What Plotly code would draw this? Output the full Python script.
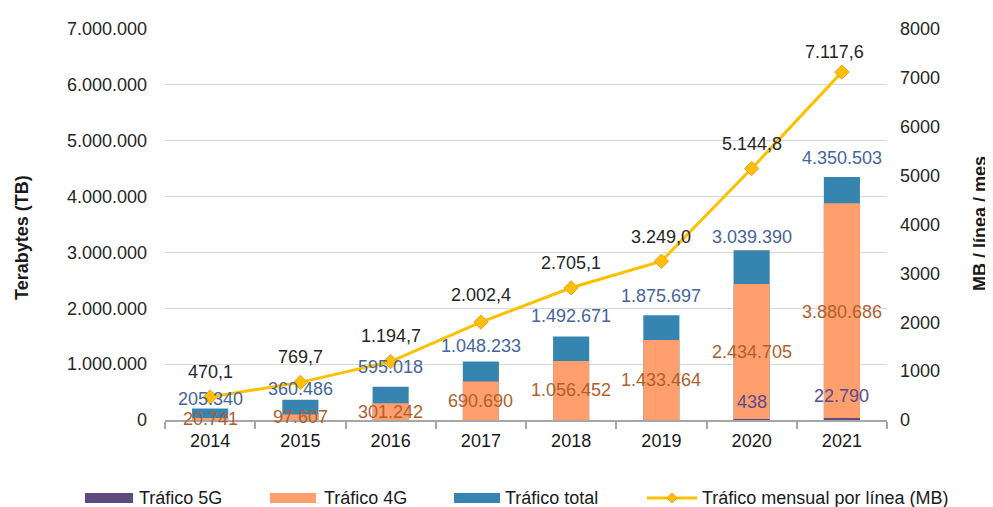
import plotly.graph_objects as go

years = ["2014", "2015", "2016", "2017", "2018", "2019", "2020", "2021"]
traffic_total = [205340, 360486, 595018, 1048233, 1492671, 1875697, 3039390, 4350503]
traffic_4g = [20741, 97607, 301242, 690690, 1056452, 1433464, 2434705, 3880686]
traffic_5g = [None, None, None, None, None, None, 438, 22790]
mb_per_line = [470.1, 769.7, 1194.7, 2002.4, 2705.1, 3249.0, 5144.8, 7117.6]

left_ticks = [0, 1000000, 2000000, 3000000, 4000000, 5000000, 6000000, 7000000]
right_ticks = [0, 1000, 2000, 3000, 4000, 5000, 6000, 7000, 8000]

# label offsets (pixels) - styling only
total_shift = [10, 11, 20, 15, 21, 19, 13, 19]
line_shift = [25, 25, 26, 27, 25, 24, 25, 20]
line_xshift = [0, 0, 0, 0, 0, 0, 0, -7]
g5_shift = [0, 0, 0, 0, 0, 0, 18, 23]

C_TOTAL = "#3585b0"
C_4G = "#fe9f6d"
C_5G = "#5e4a7e"
C_LINE = "#ffc000"
FONT = "Liberation Sans, Arial, sans-serif"

# page body has an 8px default margin
OFF = 8
W, H = 993 - OFF, 507 - OFF
L, R, T, B = 165, 887, 29, 420  # plot area in screen pixels


def fmt_int(v):
    return f"{v:,}".replace(",", ".")


def fmt_dec(v):
    s = f"{v:,.1f}"
    return s.replace(",", "X").replace(".", ",").replace("X", ".")


def px(xp):
    return (xp - L) / (R - L)


def py(yp):
    return (B - yp) / (B - T)


fig = go.Figure()
fig.add_trace(go.Bar(x=years, y=traffic_total, name="Tráfico total",
                     marker=dict(color=C_TOTAL, line=dict(width=0)), width=0.4,
                     showlegend=False))
fig.add_trace(go.Bar(x=years, y=traffic_4g, name="Tráfico 4G",
                     marker=dict(color=C_4G, line=dict(width=0)), width=0.4,
                     showlegend=False))
fig.add_trace(go.Bar(x=years, y=traffic_5g, name="Tráfico 5G",
                     marker=dict(color=C_5G, line=dict(width=0)), width=0.4,
                     showlegend=False))
fig.add_trace(go.Scatter(x=years, y=mb_per_line, yaxis="y2", mode="lines+markers",
                         name="Tráfico mensual por línea (MB)",
                         line=dict(color=C_LINE, width=3),
                         marker=dict(symbol="diamond", size=11, color=C_LINE,
                                     line=dict(color="#f39a3c", width=1)),
                         showlegend=False))

ann = []
for i, y in enumerate(years):
    ann.append(dict(x=i, y=traffic_total[i], xref="x", yref="y", text=fmt_int(traffic_total[i]),
                    showarrow=False, yshift=total_shift[i], yanchor="middle",
                    font=dict(size=18, color="#46659c", family=FONT)))
    ann.append(dict(x=i, y=traffic_4g[i] / 2, xref="x", yref="y", text=fmt_int(traffic_4g[i]),
                    showarrow=False, yanchor="middle",
                    font=dict(size=18, color="#b05f2c", family=FONT)))
    if traffic_5g[i] is not None:
        ann.append(dict(x=i, y=traffic_5g[i], xref="x", yref="y", text=fmt_int(traffic_5g[i]),
                        showarrow=False, yshift=g5_shift[i], yanchor="middle",
                        font=dict(size=18, color="#5b4a8c", family=FONT)))
    ann.append(dict(x=i, y=mb_per_line[i], xref="x", yref="y2", text=fmt_dec(mb_per_line[i]),
                    showarrow=False, yshift=line_shift[i], xshift=line_xshift[i], yanchor="middle",
                    font=dict(size=18, color="#262626", family=FONT)))

# axis titles
ann.append(dict(x=px(22), y=py(238), xref="paper", yref="paper", text="<b>Terabytes (TB)</b>",
                textangle=-90, showarrow=False, xanchor="center", yanchor="middle",
                font=dict(size=18, color="#1a1a1a", family=FONT)))
ann.append(dict(x=px(980), y=py(224), xref="paper", yref="paper", text="<b>MB / línea / mes</b>",
                textangle=-90, showarrow=False, xanchor="center", yanchor="middle",
                font=dict(size=18, color="#1a1a1a", family=FONT)))

# custom legend
shapes = []
leg_y = 498
swatches = [(85, 133, C_5G, 137, "Tráfico 5G"),
            (270, 316, C_4G, 322, "Tráfico 4G"),
            (454, 500, C_TOTAL, 503, "Tráfico total")]
for x0, x1, col, tx, label in swatches:
    shapes.append(dict(type="rect", xref="paper", yref="paper", x0=px(x0), x1=px(x1),
                       y0=py(leg_y + 5), y1=py(leg_y - 5), fillcolor=col, line=dict(width=0)))
    ann.append(dict(x=px(tx), y=py(leg_y), xref="paper", yref="paper", text=label,
                    showarrow=False, xanchor="left", yanchor="middle",
                    font=dict(size=18, color="#1a1a1a", family=FONT)))
shapes.append(dict(type="line", xref="paper", yref="paper", x0=px(647), x1=px(697),
                   y0=py(leg_y), y1=py(leg_y), line=dict(color=C_LINE, width=3)))
shapes.append(dict(type="path", xref="paper", yref="paper", xsizemode="pixel", ysizemode="pixel",
                   xanchor=px(672), yanchor=py(leg_y),
                   path="M -5 0 L 0 5 L 5 0 L 0 -5 Z", fillcolor=C_LINE,
                   line=dict(color="#f39a3c", width=1)))
ann.append(dict(x=px(700), y=py(leg_y), xref="paper", yref="paper",
                text="Tráfico mensual por línea (MB)", showarrow=False,
                xanchor="left", yanchor="middle",
                font=dict(size=18, color="#1a1a1a", family=FONT)))

fig.update_layout(
    width=W, height=H,
    margin=dict(l=L - OFF, r=(W + OFF) - R, t=T - OFF, b=(H + OFF) - B, autoexpand=False),
    paper_bgcolor="white", plot_bgcolor="white",
    barmode="overlay", separators=",.",
    showlegend=False,
    font=dict(family=FONT, size=18, color="#262626"),
    xaxis=dict(type="category", range=[-0.5, 7.5], showline=True, linecolor="#a6a6a6", linewidth=1.5,
               ticks="outside", tickson="boundaries", ticklen=7, tickcolor="#a6a6a6",
               tickwidth=1.5, showgrid=False, tickfont=dict(size=18, color="#1a1a1a"),
               tickangle=0, ticklabelstandoff=4),
    yaxis=dict(range=[0, 7000000], tickvals=left_ticks, tickformat=",d",
               showgrid=True, gridcolor="#d9d9d9", gridwidth=1, zeroline=False,
               showline=False, ticks="", tickfont=dict(size=18, color="#262626"),
               ticklabelstandoff=17),
    yaxis2=dict(range=[0, 8000], tickvals=right_ticks, tickformat="d", overlaying="y",
                side="right", showgrid=False, zeroline=False, showline=False, ticks="",
                tickfont=dict(size=18, color="#262626"), ticklabelstandoff=12),
    annotations=ann,
    shapes=shapes,
)

fig.write_html("out.html")
